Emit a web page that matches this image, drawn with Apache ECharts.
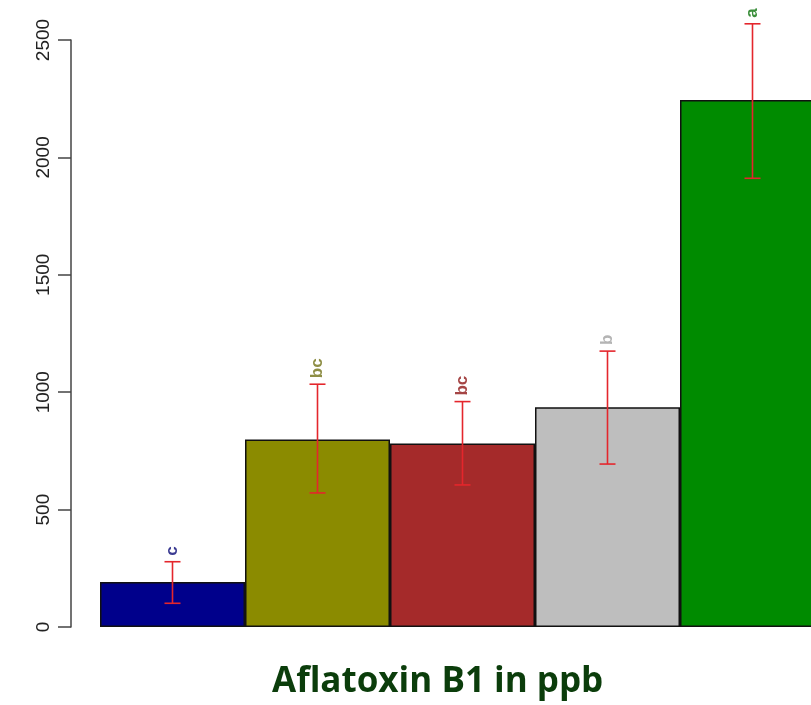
<!DOCTYPE html>
<html>
<head>
<meta charset="utf-8">
<script src="https://cdn.jsdelivr.net/npm/echarts@6/dist/echarts.min.js"></script>
<style>
  html, body { margin: 0; padding: 0; background: #fff; }
  #chart { width: 811px; height: 705px; }
</style>
</head>
<body>
<div id="chart"></div>
<script>
// groups (not labelled on the picture)
var categories = ['G1', 'G2', 'G3', 'G4', 'G5'];
var means = [192, 799, 782, 936, 2244];
var errLow = [101, 571, 605, 694, 1911];
var errHigh = [278, 1034, 960, 1175, 2569];
var letters = ['c', 'bc', 'bc', 'b', 'a'];
var yTicks = [0, 500, 1000, 1500, 2000, 2500];

var barColors = ['#00008b', '#8b8b00', '#a52a2a', '#bebebe', '#008b00'];
var letterColors = ['#3b3b92', '#8e8e45', '#a54545', '#b4b4b4', '#3c8f3c'];

var chart = echarts.init(document.getElementById('chart'), null, {renderer: 'canvas'});

var errData = categories.map(function (c, i) {
  return [i, errLow[i], errHigh[i]];
});

chart.setOption({
  animation: false,
  backgroundColor: '#fff',
  grid: {left: 100, width: 725, top: 40, bottom: 78, outerBoundsMode: 'none'},
  title: {
    text: 'Aflatoxin B1 in ppb',
    left: 267,
    top: 660,
    textStyle: {fontFamily: 'Open Sans', fontWeight: 'bold', fontSize: 35, color: '#0b3d0b'}
  },
  xAxis: {
    type: 'category',
    data: categories,
    show: false
  },
  yAxis: {
    type: 'value',
    min: 0,
    max: 2500,
    interval: 500,
    offset: 29,
    splitLine: {show: false},
    axisLine: {show: true, lineStyle: {color: '#444', width: 1.5}},
    axisTick: {show: true, length: 13, lineStyle: {color: '#444', width: 1.5}},
    axisLabel: {
      rotate: 90,
      margin: 18,
      fontFamily: 'Liberation Sans',
      fontSize: 19,
      color: '#222',
      formatter: function (v) { return yTicks.indexOf(v) >= 0 ? String(v) : ''; }
    }
  },
  series: [
    {
      type: 'bar',
      data: means.map(function (v, i) {
        return {value: v, itemStyle: {color: barColors[i]}};
      }),
      barWidth: '100%',
      barCategoryGap: 0,
      itemStyle: {borderColor: '#111', borderWidth: 1.5}
    },
    {
      type: 'custom',
      data: errData,
      clip: false,
      encode: {x: 0, y: [1, 2]},
      z: 10,
      renderItem: function (params, api) {
        var i = api.value(0);
        var lo = api.coord([i, api.value(1)]);
        var hi = api.coord([i, api.value(2)]);
        var half = 8;
        var st = {stroke: '#e4262c', lineWidth: 1.6};
        return {
          type: 'group',
          children: [
            {type: 'line', shape: {x1: hi[0], y1: hi[1], x2: lo[0], y2: lo[1]}, style: st},
            {type: 'line', shape: {x1: hi[0] - half, y1: hi[1], x2: hi[0] + half, y2: hi[1]}, style: st},
            {type: 'line', shape: {x1: lo[0] - half, y1: lo[1], x2: lo[0] + half, y2: lo[1]}, style: st},
            {
              type: 'text',
              x: hi[0],
              y: hi[1] - 6,
              rotation: Math.PI / 2,
              style: {
                text: letters[params.dataIndex],
                fill: letterColors[params.dataIndex],
                font: 'bold 17px "Liberation Sans"',
                align: 'left',
                verticalAlign: 'middle'
              }
            }
          ]
        };
      }
    }
  ]
});
</script>
</body>
</html>
